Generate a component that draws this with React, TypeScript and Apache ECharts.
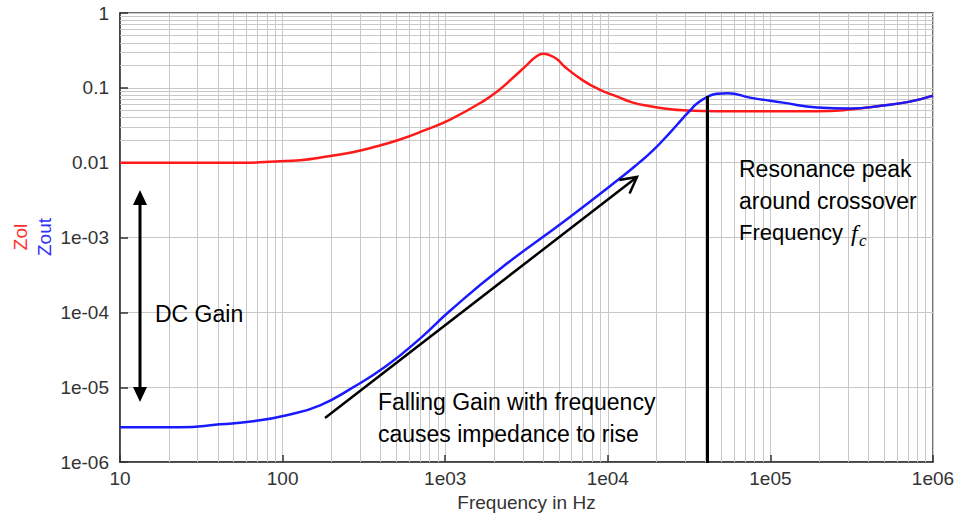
import React, { useEffect, useRef } from "react";
import * as echarts from "echarts";

// Open-loop output impedance (Zol) and closed-loop output impedance (Zout)
const freqZol = [10, 63, 90, 128, 182, 260, 370, 527, 751, 1072, 1708, 2173, 2505, 3186, 3616, 3993, 4411, 4900, 5410, 7060, 8960, 11350, 14100, 18200, 23100, 29000, 46950, 100000, 193500, 309000, 492000, 722000, 1000000];
const zol = [0.01, 0.01, 0.0104, 0.0108, 0.012, 0.0136, 0.0163, 0.0204, 0.0272, 0.0377, 0.066, 0.096, 0.1257, 0.203, 0.26, 0.285, 0.272, 0.24, 0.193, 0.125, 0.094, 0.077, 0.064, 0.0567, 0.0525, 0.0501, 0.0486, 0.0485, 0.0486, 0.0513, 0.058, 0.0655, 0.0787];

const freqZout = [10, 23.4, 41.2, 65.8, 106, 170, 271, 438, 700, 1071, 2173, 5610, 11890, 15140, 18970, 24150, 29000, 32000, 35370, 40740, 46950, 54800, 74950, 119500, 193500, 309000, 492000, 722000, 1000000];
const zout = [2.92e-6, 2.92e-6, 3.2e-6, 3.51e-6, 4.23e-6, 5.74e-6, 9.96e-6, 1.95e-5, 4.47e-5, 1.05e-4, 3.81e-4, 1.76e-3, 6.19e-3, 0.0095, 0.0146, 0.0253, 0.0395, 0.0497, 0.0616, 0.0751, 0.0836, 0.085, 0.074, 0.0635, 0.0545, 0.0528, 0.058, 0.0655, 0.0787];

const xTickLabels = ["10", "100", "1e03", "1e04", "1e05", "1e06"];
const yTickLabels = ["1e-06", "1e-05", "1e-04", "1e-03", "0.01", "0.1", "1"];

const FONT = '"Liberation Sans", Arial, sans-serif';
const GRID_GRAY = "#c8c8c8";

function pairs(xs: number[], ys: number[]) {
  return xs.map((x, i) => [x, ys[i]]);
}

// minor log grid lines at 2..9 within each decade
function minorLines() {
  const out: any[] = [];
  for (let e = 1; e < 6; e++) for (let m = 2; m <= 9; m++) out.push({ xAxis: m * Math.pow(10, e) });
  for (let e = -6; e < 0; e++) for (let m = 2; m <= 9; m++) out.push({ yAxis: m * Math.pow(10, e) });
  return out;
}

function arrowHead(tipX: number, tipY: number, fromX: number, fromY: number, len: number, ang: number) {
  const dx = fromX - tipX;
  const dy = fromY - tipY;
  const d = Math.hypot(dx, dy);
  const ux = dx / d;
  const uy = dy / d;
  const c = Math.cos(ang);
  const s = Math.sin(ang);
  const a1 = [tipX + len * (ux * c - uy * s), tipY + len * (ux * s + uy * c)];
  const a2 = [tipX + len * (ux * c + uy * s), tipY + len * (-ux * s + uy * c)];
  return [a1, [tipX, tipY], a2];
}

export default function App() {
  const ref = useRef<HTMLDivElement>(null);

  useEffect(() => {
    const chart = echarts.init(ref.current!, null, { renderer: "svg" });

    const diag = { x1: 325, y1: 418, x2: 637, y2: 177 };
    const textStyle = (text: string, size = 23) => ({
      text,
      font: `${size}px ${FONT}`,
      fill: "#000",
      align: "left",
      verticalAlign: "middle",
    });

    chart.setOption({
      animation: false,
      backgroundColor: "#fff",
      grid: {
        left: 120,
        right: 26,
        top: 13,
        bottom: 53,
        show: true,
        borderColor: "#444",
        borderWidth: 1.5,
      },
      xAxis: {
        type: "log",
        logBase: 10,
        min: 10,
        max: 1e6,
        splitNumber: 5,
        name: "Frequency in Hz",
        nameLocation: "middle",
        nameGap: 29,
        nameTextStyle: { fontFamily: FONT, fontSize: 19, color: "#333" },
        axisLine: { lineStyle: { color: "#333", width: 1.5 } },
        axisTick: { inside: true, length: 7, lineStyle: { color: "#333", width: 1.5 } },
        axisLabel: {
          fontFamily: FONT,
          fontSize: 19,
          color: "#333",
          margin: 7,
          formatter: (v: number) => xTickLabels[Math.round(Math.log10(v)) - 1] ?? "",
        },
        splitLine: { show: true, lineStyle: { color: GRID_GRAY, width: 1 } },
      },
      yAxis: {
        type: "log",
        logBase: 10,
        min: 1e-6,
        max: 1,
        splitNumber: 6,
        axisLine: { lineStyle: { color: "#333", width: 1.5 } },
        axisTick: { inside: true, length: 8, lineStyle: { color: "#333", width: 1.5 } },
        axisLabel: {
          fontFamily: FONT,
          fontSize: 19,
          color: "#333",
          margin: 11,
          formatter: (v: number) => yTickLabels[Math.round(Math.log10(v)) + 6] ?? "",
        },
        splitLine: { show: true, lineStyle: { color: GRID_GRAY, width: 1 } },
      },
      series: [
        {
          type: "line",
          data: [[10, 1e-6]],
          symbol: "none",
          lineStyle: { opacity: 0 },
          silent: true,
          markLine: {
            silent: true,
            z: 1,
            symbol: ["none", "none"],
            label: { show: false },
            emphasis: { disabled: true },
            lineStyle: { color: GRID_GRAY, width: 1, type: "solid" },
            data: minorLines(),
          },
        },
        {
          name: "Zol",
          type: "line",
          data: pairs(freqZol, zol),
          symbol: "none",
          smooth: 0.5,
          z: 3,
          lineStyle: { color: "#ff1a1a", width: 2.5 },
        },
        {
          name: "Zout",
          type: "line",
          data: pairs(freqZout, zout),
          symbol: "none",
          smooth: 0.5,
          z: 4,
          lineStyle: { color: "#1a1aff", width: 2.5 },
        },
      ],
      graphic: [
        // axis title: two stacked, rotated names
        {
          type: "text",
          x: 20,
          y: 237,
          rotation: Math.PI / 2,
          z: 100,
          style: { text: "Zol", font: `19px ${FONT}`, fill: "#ff3030", align: "center", verticalAlign: "middle" },
        },
        {
          type: "text",
          x: 44,
          y: 237,
          rotation: Math.PI / 2,
          z: 100,
          style: { text: "Zout", font: `19px ${FONT}`, fill: "#3030ff", align: "center", verticalAlign: "middle" },
        },
        // DC gain double arrow
        {
          type: "line",
          z: 100,
          shape: { x1: 140, y1: 202, x2: 140, y2: 390 },
          style: { stroke: "#000", lineWidth: 3 },
        },
        {
          type: "polygon",
          z: 100,
          shape: { points: [[140, 190], [133, 205], [147, 205]] },
          style: { fill: "#000" },
        },
        {
          type: "polygon",
          z: 100,
          shape: { points: [[140, 402], [133, 387], [147, 387]] },
          style: { fill: "#000" },
        },
        { type: "text", x: 155, y: 314, z: 100, style: textStyle("DC Gain") },
        // rising-impedance arrow
        {
          type: "line",
          z: 100,
          shape: diag,
          style: { stroke: "#000", lineWidth: 2.5 },
        },
        {
          type: "polyline",
          z: 100,
          shape: { points: arrowHead(diag.x2, diag.y2, diag.x1, diag.y1, 18, (28 * Math.PI) / 180) },
          style: { stroke: "#000", lineWidth: 2.5, fill: null },
        },
        { type: "text", x: 378, y: 402, z: 100, style: textStyle("Falling Gain with frequency") },
        { type: "text", x: 378, y: 434, z: 100, style: textStyle("causes impedance to rise") },
        // crossover marker
        {
          type: "line",
          z: 100,
          shape: { x1: 707.5, y1: 96, x2: 707.5, y2: 463 },
          style: { stroke: "#000", lineWidth: 3 },
        },
        { type: "text", x: 739, y: 169, z: 100, style: textStyle("Resonance peak") },
        { type: "text", x: 739, y: 201, z: 100, style: textStyle("around crossover") },
        { type: "text", x: 739, y: 232, z: 100, style: textStyle("Frequency", 22) },
        {
          type: "text",
          x: 851,
          y: 233,
          z: 100,
          style: { text: "f", font: `italic 24px "Liberation Serif", "DejaVu Serif", serif`, fill: "#000", align: "left", verticalAlign: "middle" },
        },
        {
          type: "text",
          x: 859,
          y: 240,
          z: 100,
          style: { text: "c", font: `italic 17px "Liberation Serif", "DejaVu Serif", serif`, fill: "#000", align: "left", verticalAlign: "middle" },
        },
      ],
    });

    return () => chart.dispose();
  }, []);

  return (
    <div
      ref={ref}
      style={{ position: "fixed", left: 0, top: 0, width: 959, height: 517 }}
    />
  );
}
